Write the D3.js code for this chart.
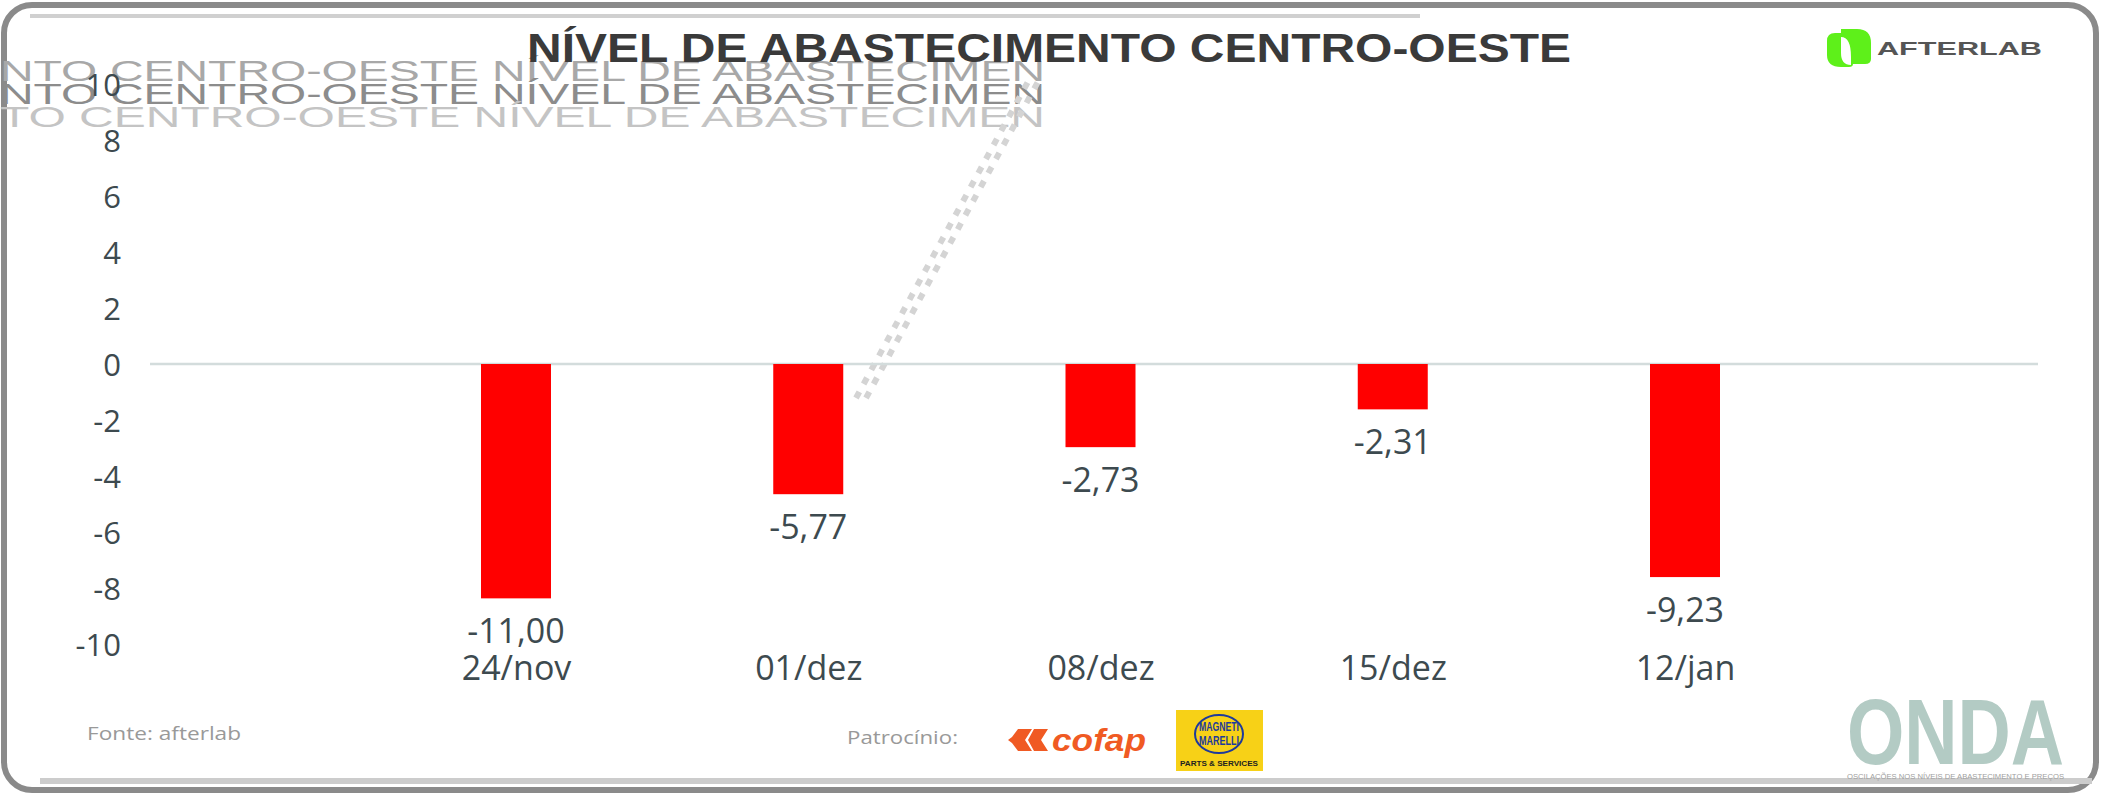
<!DOCTYPE html>
<html>
<head>
<meta charset="utf-8">
<script src="https://cdn.jsdelivr.net/npm/d3@7"></script>
<style>
  html, body { margin: 0; padding: 0; background: #fff; }
  svg { display: block; }
</style>
</head>
<body>
<svg id="chart" width="2102" height="795"></svg>
<script>
// ---- data ----
const categories = ["24/nov", "01/dez", "08/dez", "15/dez", "12/jan"];
// bar heights as drawn against the y axis
const barValues = [-8.37, -4.65, -2.97, -1.62, -7.61];
// numbers printed under the bars
const labelValues = [-11.00, -5.77, -2.73, -2.31, -9.23];
const yTicks = [10, 8, 6, 4, 2, 0, -2, -4, -6, -8, -10];
const titleText = "NÍVEL DE ABASTECIMENTO CENTRO-OESTE";
const ghostRows = ["NTO CENTRO-OESTE NÍVEL DE ABASTECIMEN", "NTO CENTRO-OESTE NÍVEL DE ABASTECIMEN", "TO CENTRO-OESTE NÍVEL DE ABASTECIMEN"];

const svg = d3.select("#chart");
const W = 2102, H = 795;
const font = "'Open Sans', 'Noto Sans', sans-serif";
const textCol = "#3d4a4f";

// ---- frame ----
svg.append("rect").attr("x", 4).attr("y", 5).attr("width", W - 10).attr("height", H - 10)
  .attr("rx", 28).attr("fill", "#fff").attr("stroke", "#8a8a8a").attr("stroke-width", 6);
svg.append("path")
  .attr("d", `M30,16 H1420`)
  .attr("stroke", "#d0d0d0").attr("stroke-width", 4).attr("fill", "none");
svg.append("path")
  .attr("d", `M40,${H - 14} H${W - 10}`)
  .attr("stroke", "#cccccc").attr("stroke-width", 6).attr("fill", "none");

// ---- scales ----
const y = d3.scaleLinear().domain([-10, 10]).range([644, 84]);
const x = d3.scalePoint().domain(categories).range([516, 1685]);
const barW = 70;

// ghost overlay text (artefacts in the source image)
const ghostCols = ["#a8a8a8", "#8c8c8c", "#c4c4c4"];
svg.append("g").selectAll("text").data(ghostRows).join("text")
  .attr("x", 0).attr("y", (d, i) => 81 + i * 23)
  .attr("textLength", 1045).attr("lengthAdjust", "spacingAndGlyphs")
  .attr("font-family", "'Liberation Sans', Arial, sans-serif")
  .attr("font-size", 29)
  .attr("fill", (d, i) => ghostCols[i])
  .text(d => d);

// ghost dotted diagonal
[0, 10].forEach(off => {
  svg.append("line")
    .attr("x1", 856 + off).attr("y1", 398).attr("x2", 1030 + off).attr("y2", 78)
    .attr("stroke", "#d4d4d4").attr("stroke-width", 6).attr("stroke-dasharray", "7 9");
});

// ---- title ----
svg.append("text")
  .attr("x", 527).attr("y", 62)
  .attr("textLength", 1044).attr("lengthAdjust", "spacingAndGlyphs")
  .attr("font-family", "'Liberation Sans', Arial, sans-serif")
  .attr("font-weight", "bold").attr("font-size", 41)
  .attr("fill", "#3a3a3a")
  .text(titleText);

// ---- y axis ----
const yAxis = d3.axisLeft(y).tickValues(yTicks).tickSize(0).tickPadding(0)
  .tickFormat(d => String(d));
const gy = svg.append("g").attr("transform", "translate(121,0)").call(yAxis);
gy.select(".domain").remove();
gy.selectAll("text")
  .attr("font-family", font).attr("font-size", 31).attr("fill", textCol)
  .attr("dy", "0.36em");

// zero line
svg.append("line")
  .attr("x1", 150).attr("x2", 2038).attr("y1", y(0)).attr("y2", y(0))
  .attr("stroke", "#d3dcdc").attr("stroke-width", 2.5);

// ---- bars ----
const data = categories.map((c, i) => ({ c, v: barValues[i], lab: labelValues[i] }));
svg.append("g").selectAll("rect").data(data).join("rect")
  .attr("x", d => x(d.c) - barW / 2)
  .attr("width", barW)
  .attr("y", d => y(Math.max(0, d.v)))
  .attr("height", d => Math.abs(y(d.v) - y(0)))
  .attr("fill", "#ff0000");

// value labels
const fmt = v => v.toFixed(2).replace(".", ",");
svg.append("g").selectAll("text").data(data).join("text")
  .attr("x", d => x(d.c))
  .attr("y", d => y(d.v) + 45)
  .attr("text-anchor", "middle")
  .attr("font-family", font).attr("font-size", 34).attr("fill", textCol)
  .text(d => fmt(d.lab));

// category labels
const xAxis = d3.axisBottom(x).tickSize(0).tickPadding(0);
const gx = svg.append("g").attr("transform", "translate(0,656)").call(xAxis);
gx.select(".domain").remove();
gx.selectAll("text")
  .attr("font-family", font).attr("font-size", 34).attr("fill", textCol)
  .attr("dy", "0.71em");

// ---- AFTERLAB logo ----
const logo = svg.append("g").attr("transform", "translate(1827,29)");
logo.append("path")
  .attr("d", "M14,0 H30 Q44,0 44,14 V30 Q44,35 38,35 H24 V28 Q24,8 14,8 Z")
  .attr("fill", "#5ef01a");
logo.append("path")
  .attr("d", "M0,12 Q0,4 8,4 H14 V24 Q14,36 24,36 V35 H26 V35 Q26,38 22,38 V35 L22,38 H14 Q0,38 0,26 Z")
  .attr("fill", "#5ef01a");
svg.append("text").attr("x", 1877).attr("y", 55)
  .attr("textLength", 165).attr("lengthAdjust", "spacingAndGlyphs")
  .attr("font-family", "'Liberation Sans', Arial, sans-serif").attr("font-weight", "bold")
  .attr("font-size", 19).attr("fill", "#555").text("AFTERLAB");

// ---- footer ----
svg.append("text").attr("x", 87).attr("y", 740)
  .attr("textLength", 154).attr("lengthAdjust", "spacingAndGlyphs")
  .attr("font-family", font).attr("font-size", 19).attr("fill", "#999")
  .text("Fonte: afterlab");
svg.append("text").attr("x", 847).attr("y", 744)
  .attr("textLength", 111).attr("lengthAdjust", "spacingAndGlyphs")
  .attr("font-family", font).attr("font-size", 18).attr("fill", "#999")
  .text("Patrocínio:");

// cofap logo
const cof = svg.append("g").attr("transform", "translate(1008,724)");
cof.append("path")
  .attr("d", "M10,0 H24 L17,11 L24,22 H10 L4,14 L0,11 L4,8 Z M26,0 H40 L33,11 L40,22 H26 L20,11 Z")
  .attr("fill", "#f05a23").attr("transform", "translate(0,5)");
cof.append("text").attr("x", 44).attr("y", 27)
  .attr("font-family", "'Liberation Sans', Arial, sans-serif").attr("font-weight", "bold")
  .attr("font-style", "italic").attr("font-size", 32).attr("fill", "#f05a23")
  .attr("textLength", 94).attr("lengthAdjust", "spacingAndGlyphs").text("cofap");

// Magneti Marelli logo
const mm = svg.append("g").attr("transform", "translate(1176,710)");
mm.append("rect").attr("width", 87).attr("height", 61).attr("fill", "#f7d117");
mm.append("ellipse").attr("cx", 43).attr("cy", 24).attr("rx", 24).attr("ry", 19)
  .attr("fill", "none").attr("stroke", "#1d3a9c").attr("stroke-width", 2);
mm.append("text").attr("x", 43).attr("y", 21).attr("text-anchor", "middle")
  .attr("font-family", "'Liberation Sans Narrow', 'Liberation Sans', sans-serif").attr("font-weight", "bold")
  .attr("font-size", 13).attr("fill", "#1d3a9c").attr("textLength", 40).attr("lengthAdjust", "spacingAndGlyphs").text("MAGNETI");
mm.append("text").attr("x", 43).attr("y", 35).attr("text-anchor", "middle")
  .attr("font-family", "'Liberation Sans Narrow', 'Liberation Sans', sans-serif").attr("font-weight", "bold")
  .attr("font-size", 13).attr("fill", "#1d3a9c").attr("textLength", 40).attr("lengthAdjust", "spacingAndGlyphs").text("MARELLI");
mm.append("text").attr("x", 43).attr("y", 56).attr("text-anchor", "middle")
  .attr("font-family", "'Liberation Sans', sans-serif").attr("font-weight", "bold")
  .attr("font-size", 8).attr("fill", "#222").attr("textLength", 78).attr("lengthAdjust", "spacingAndGlyphs").text("PARTS & SERVICES");

// ONDA logo
svg.append("text").attr("transform", "translate(1847,764) scale(1,1.3)")
  .attr("textLength", 217).attr("lengthAdjust", "spacingAndGlyphs")
  .attr("font-family", "'Liberation Sans Narrow', 'Liberation Sans', sans-serif").attr("font-weight", "bold")
  .attr("font-size", 71).attr("fill", "#b3cbc4").text("ONDA");
svg.append("text").attr("x", 1847).attr("y", 779)
  .attr("textLength", 217).attr("lengthAdjust", "spacingAndGlyphs")
  .attr("font-family", "'Liberation Sans', sans-serif")
  .attr("font-size", 7).attr("fill", "#a0a0a0").text("OSCILAÇÕES NOS NÍVEIS DE ABASTECIMENTO E PREÇOS");
</script>
</body>
</html>
